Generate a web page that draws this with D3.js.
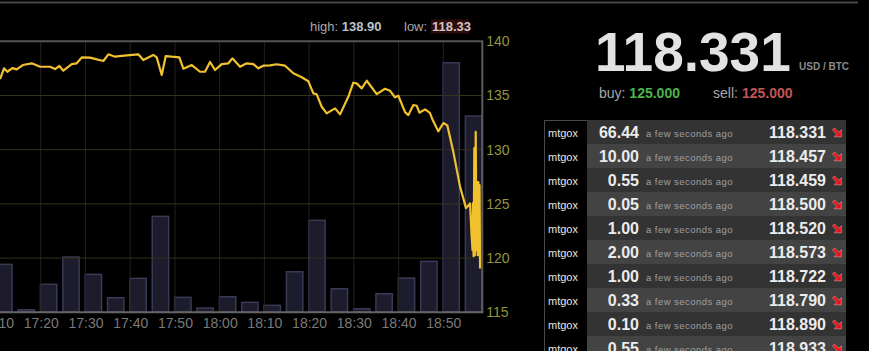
<!DOCTYPE html>
<html>
<head>
<meta charset="utf-8">
<script src="https://cdn.jsdelivr.net/npm/d3@7"></script>
<style>
html,body{margin:0;padding:0;background:#000;overflow:hidden;}
svg{display:block;font-family:"Liberation Sans",Arial,sans-serif;}
</style>
</head>
<body>
<svg id="c" width="869" height="351"></svg>
<script>
// ---- data ----
const xDomain = ["17:10:00", "18:58:43"];
const yDomain = [115, 140];
const yTicks = [115, 120, 125, 130, 135, 140];
const priceTimes = ["17:10:54","17:11:48","17:12:32","17:13:39","17:14:38","17:15:59","17:17:59","17:19:51","17:22:05","17:23:12","17:24:10","17:25:03","17:26:56","17:28:03","17:29:10","17:31:01","17:34:00","17:35:07","17:36:37","17:39:14","17:41:49","17:42:56","17:45:10","17:45:56","17:47:03","17:47:57","17:49:17","17:50:59","17:51:53","17:53:46","17:55:37","17:56:44","17:57:51","17:58:58","18:00:28","18:01:57","18:02:50","18:04:34","18:06:03","18:07:32","18:08:39","18:09:46","18:11:16","18:12:46","18:14:37","18:16:28","18:18:21","18:19:50","18:20:57","18:21:42","18:22:49","18:23:56","18:25:48","18:26:55","18:28:46","18:29:53","18:30:38","18:31:46","18:32:53","18:35:07","18:36:58","18:38:05","18:39:12","18:39:57","18:41:27","18:42:11","18:43:18","18:44:04","18:44:39","18:45:55","18:47:00","18:47:38","18:48:53","18:50:01","18:50:54","18:52:15","18:53:45","18:55:05","18:55:59","18:56:19","18:56:32","18:56:39","18:56:46","18:56:56","18:57:03","18:57:15","18:57:23","18:57:33","18:57:41","18:57:50","18:57:59","18:58:06","18:58:13"];
const prices = [136.52,137.51,137.19,137.53,137.41,137.81,137.97,137.65,137.65,137.44,137.72,137.29,137.90,137.97,138.52,138.49,138.18,138.80,138.58,138.71,138.80,138.27,138.74,138.52,136.89,138.64,138.58,138.52,137.47,137.81,137.19,137.19,138.09,137.35,137.90,137.97,138.43,137.65,137.97,137.90,137.51,137.75,137.78,137.88,137.75,137.05,136.68,136.31,135.20,135.11,133.96,133.35,133.81,133.26,134.88,136.18,136.12,135.66,136.36,135.13,135.62,135.44,134.83,134.98,133.47,133.19,134.12,134.05,133.41,133.72,133.40,132.73,131.69,132.46,132.24,129.78,126.57,124.61,125.04,122.11,120.73,125.07,120.18,130.15,120.27,131.65,120.73,127.01,120.27,127.01,120.27,126.73,119.04];
const volTimes = ["17:10","17:15","17:20","17:25","17:30","17:35","17:40","17:45","17:50","17:55","18:00","18:05","18:10","18:15","18:20","18:25","18:30","18:35","18:40","18:45","18:50","18:55"];
const volumes = [487,33,287,560,387,153,347,967,157,50,163,107,77,413,927,243,43,193,350,517,2503,1970];
const volMax = 2710;
const high = "138.90", low = "118.33";
const lastPrice = "118.331", buyPrice = "125.000", sellPrice = "125.000";
const tradeExchange = ["mtgox","mtgox","mtgox","mtgox","mtgox","mtgox","mtgox","mtgox","mtgox","mtgox"];
const tradeAmounts = ["66.44","10.00","0.55","0.05","1.00","2.00","1.00","0.33","0.10","0.55"];
const tradeAgo = "a few seconds ago";
const tradePrices = ["118.331","118.457","118.459","118.500","118.520","118.573","118.722","118.790","118.890","118.933"];

// ---- layout ----
const svg = d3.select("#c");
const P = {left:-4, right:482.3, top:41.3, bottom:312.3};
const pt = d3.timeParse("%H:%M:%S"), pm = d3.timeParse("%H:%M");

const x = d3.scaleTime().domain(xDomain.map(pt)).range([P.left, P.right]);
const y = d3.scaleLinear().domain(yDomain).range([P.bottom, P.top]);
const yv = d3.scaleLinear().domain([0, volMax]).range([P.bottom, P.top]);

// top rule
svg.append("line").attr("x1",0).attr("x2",858).attr("y1",2.5).attr("y2",2.5)
  .attr("stroke","#474747").attr("stroke-width",2);

// bars
const fiveMin = 5*60*1000;
svg.append("g").selectAll("rect").data(volTimes).join("rect")
  .attr("x", d => x(pm(d)) - 0.3)
  .attr("width", d => x(new Date(+pm(d)+fiveMin)) - x(pm(d)) - 6)
  .attr("y", (d,i) => yv(volumes[i]) + 0.75)
  .attr("height", (d,i) => P.bottom - 0.5 - yv(volumes[i]) - 0.75)
  .attr("fill","#1d1c2c").attr("stroke","#3a3956").attr("stroke-width",1.5);

// grid
const xt = x.ticks(d3.timeMinute.every(10));
svg.append("g").selectAll("line").data(xt.filter(d => x(d) > 0)).join("line")
  .attr("x1", d => x(d)).attr("x2", d => x(d))
  .attr("y1", P.top).attr("y2", P.bottom)
  .attr("stroke","#222222").attr("stroke-width",1);
svg.append("g").selectAll("line").data(yTicks.slice(1,-1)).join("line")
  .attr("x1", 0).attr("x2", P.right)
  .attr("y1", d => y(d)).attr("y2", d => y(d))
  .attr("stroke","#33331a").attr("stroke-width",1);

// price line
const pdata = priceTimes.map((t,i) => [pt(t), prices[i]]);
svg.append("path").datum(pdata)
  .attr("d", d3.line().x(d => x(d[0])).y(d => y(d[1])))
  .attr("fill","none").attr("stroke","#f2c12e").attr("stroke-width",2.2)
  .attr("stroke-linejoin","round");

// borders
svg.append("line").attr("x1",0).attr("x2",P.right+1).attr("y1",P.top).attr("y2",P.top)
  .attr("stroke","#555").attr("stroke-width",2);
svg.append("line").attr("x1",P.right).attr("x2",P.right).attr("y1",P.top).attr("y2",P.bottom)
  .attr("stroke","#5c5c5c").attr("stroke-width",2);
svg.append("line").attr("x1",0).attr("x2",P.right+1).attr("y1",P.bottom).attr("y2",P.bottom)
  .attr("stroke","#666").attr("stroke-width",2);

// axes
const ya = svg.append("g").attr("transform",`translate(${P.right},0)`)
  .call(d3.axisRight(y).tickValues(yTicks).tickSize(0).tickPadding(4));
ya.select(".domain").remove();
ya.selectAll("text").attr("fill","#94943c").style("font-size","14px").style("font-family","Liberation Sans, Arial, sans-serif");

const xa = svg.append("g").attr("transform",`translate(0,${P.bottom})`)
  .call(d3.axisBottom(x).ticks(d3.timeMinute.every(10)).tickFormat(d3.timeFormat("%H:%M")).tickSize(0).tickPadding(5.5));
xa.select(".domain").remove();
xa.selectAll("text").attr("fill","#7a7a7a").style("font-size","14px").style("font-family","Liberation Sans, Arial, sans-serif");

// high / low
const hl = svg.append("text").attr("x",310).attr("y",31).style("font-size","13px");
hl.append("tspan").attr("fill","#a8a8a8").text("high: ");
hl.append("tspan").attr("fill","#b9c3cb").attr("font-weight","bold").text(high);
svg.append("rect").attr("x",431).attr("y",19.5).attr("width",38).attr("height",14).attr("fill","#2e0c0c");
const lo = svg.append("text").attr("x",404).attr("y",31).style("font-size","13px");
lo.append("tspan").attr("fill","#a8a8a8").text("low: ");
lo.append("tspan").attr("fill","#d2c4c4").attr("font-weight","bold").attr("x",432).text(low);

// big price
svg.append("text").attr("x",595).attr("y",71).attr("fill","#e2e2e2")
  .attr("font-weight","bold").style("font-size","55px").text(lastPrice);
svg.append("text").attr("x",799).attr("y",69.5).attr("fill","#8a8a8a")
  .attr("font-weight","bold").style("font-size","10px").text("USD / BTC");
const bs = svg.append("text").attr("x",599).attr("y",97.5).style("font-size","14px");
bs.append("tspan").attr("fill","#a8a8a8").text("buy: ");
bs.append("tspan").attr("fill","#4db34d").attr("font-weight","bold").text(buyPrice);
const ss = svg.append("text").attr("x",713).attr("y",97.5).style("font-size","14px");
ss.append("tspan").attr("fill","#a8a8a8").text("sell: ");
ss.append("tspan").attr("fill","#c05656").attr("font-weight","bold").attr("x",742).text(sellPrice);

// trades table
const T = {x0:544, c1:587, x1:846, top:120, rh:24};
const rows = svg.append("g").selectAll("g").data(tradeAmounts).join("g")
  .attr("transform",(d,i)=>`translate(0,${T.top + i*T.rh})`);
rows.append("rect").attr("x",T.c1).attr("width",T.x1-T.c1).attr("height",T.rh)
  .attr("fill",(d,i)=> i%2 ? "#434343" : "#333333");
rows.append("text").attr("x",548).attr("y",17).attr("fill","#e6e6e6").style("font-size","11px")
  .text((d,i)=>tradeExchange[i]);
rows.append("text").attr("x",639).attr("y",18).attr("text-anchor","end").attr("fill","#ececec")
  .attr("font-weight","bold").style("font-size","16px").text(d=>d);
rows.append("text").attr("x",646).attr("y",17).attr("fill","#a0a0a0")
  .style("font-size","9.5px").style("letter-spacing","0.45px").text(tradeAgo);
rows.append("text").attr("x",826).attr("y",18).attr("text-anchor","end").attr("fill","#ececec")
  .attr("font-weight","bold").style("font-size","16px").text((d,i)=>tradePrices[i]);
rows.append("path").attr("transform","translate(832.5,8)")
  .attr("d","M2,0 L6.3,4.3 L8.8,1.8 L8.8,8.8 L1.8,8.8 L4.3,6.3 L0,2 Z")
  .attr("fill","#ec1016").attr("stroke","#f6b4b4").attr("stroke-width",0.5);
svg.append("line").attr("x1",T.x0+0.5).attr("x2",T.x0+0.5).attr("y1",T.top).attr("y2",351)
  .attr("stroke","#4a4a4a").attr("stroke-width",1);
svg.append("line").attr("x1",T.x0).attr("x2",T.c1).attr("y1",T.top+0.5).attr("y2",T.top+0.5)
  .attr("stroke","#4a4a4a").attr("stroke-width",1);
</script>
</body>
</html>
